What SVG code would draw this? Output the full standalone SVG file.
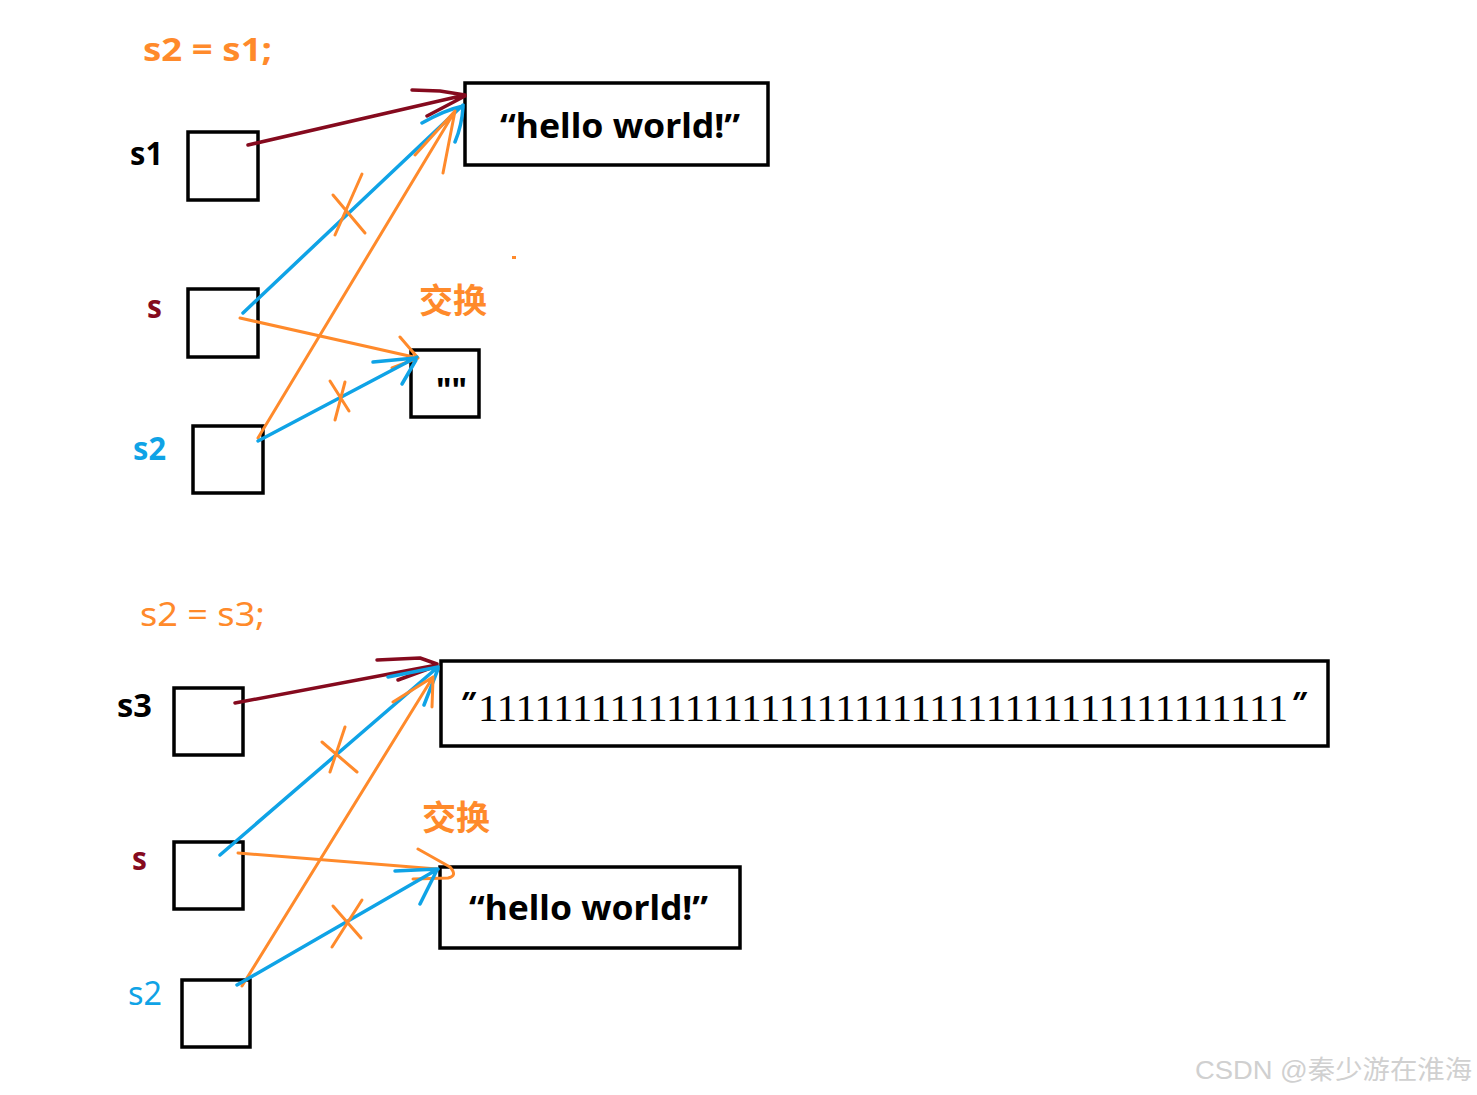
<svg xmlns="http://www.w3.org/2000/svg" width="1477" height="1095" viewBox="0 0 1477 1095">
<style>
.box{fill:none;stroke:#000;stroke-width:3.5}
.lbl{font-family:"Noto Sans","Open Sans","DejaVu Sans",sans-serif;font-weight:bold;font-size:32px}
.reg{font-family:"Noto Sans","Open Sans","DejaVu Sans",sans-serif;font-size:32px}
.cjk{font-family:"Noto Sans CJK SC",sans-serif;font-weight:bold;font-size:34px;fill:#FF8A2B}
.hw{font-family:"Noto Sans","Open Sans",sans-serif;font-weight:bold;font-size:34px;fill:#000}
.q{font-family:"Liberation Sans","DejaVu Sans",sans-serif;font-size:32px;font-weight:bold;fill:#000}
.red{stroke:#850A1E;stroke-width:3.5;fill:none;stroke-linecap:round;stroke-linejoin:round}
.blue{stroke:#0FA3E6;stroke-width:3.5;fill:none;stroke-linecap:round;stroke-linejoin:round}
.org{stroke:#FF8A2B;stroke-width:3;fill:none;stroke-linecap:round;stroke-linejoin:round}
</style>
<rect width="1477" height="1095" fill="#fff"/>

<!-- top section -->
<text class="lbl" x="143" y="61" fill="#FF8A2B" textLength="129" lengthAdjust="spacingAndGlyphs">s2 = s1;</text>
<g id="s1">
<text class="lbl" x="130" y="165" fill="#000" textLength="33" lengthAdjust="spacingAndGlyphs">s1</text>
<rect class="box" x="188" y="132" width="70" height="68"/>
</g>
<g id="s_top">
<text class="lbl" x="147" y="318" fill="#850A1E" textLength="15" lengthAdjust="spacingAndGlyphs">s</text>
<rect class="box" x="188" y="289" width="70" height="68"/>
</g>
<g id="s2_top">
<text class="lbl" x="133" y="460" fill="#0FA3E6" textLength="33" lengthAdjust="spacingAndGlyphs">s2</text>
<rect class="box" x="193" y="426" width="70" height="67"/>
</g>
<g id="hello_top">
<rect class="box" x="465" y="83" width="303" height="82"/>
<text class="hw" x="500" y="138" textLength="240" lengthAdjust="spacingAndGlyphs">“hello world!”</text>
</g>
<g id="empty_top">
<rect class="box" x="411" y="350" width="68" height="67"/>
<text class="hw" x="436" y="402" font-size="26" textLength="31" lengthAdjust="spacingAndGlyphs">""</text>
</g>
<text class="cjk" x="419" y="313">交换</text>
<rect x="512" y="256" width="4" height="3" fill="#FF8A2B"/>

<!-- bottom section -->
<text class="reg" x="140" y="626" fill="#FF8A2B" textLength="125" lengthAdjust="spacingAndGlyphs">s2 = s3;</text>
<g id="s3">
<text class="lbl" x="117" y="717" fill="#000" textLength="35" lengthAdjust="spacingAndGlyphs">s3</text>
<rect class="box" x="174" y="688" width="69" height="67"/>
</g>
<g id="s_bot">
<text class="lbl" x="132" y="870" fill="#850A1E" textLength="15" lengthAdjust="spacingAndGlyphs">s</text>
<rect class="box" x="174" y="842" width="69" height="67"/>
</g>
<g id="s2_bot">
<text class="reg" x="128" y="1005" fill="#0FA3E6" textLength="34" lengthAdjust="spacingAndGlyphs">s2</text>
<rect class="box" x="182" y="980" width="68" height="67"/>
</g>
<g id="ones">
<rect class="box" x="441" y="661" width="887" height="85"/>
<text class="q" transform="translate(453,714) skewX(-25)">"</text>
<text x="478" y="721" font-family="'Liberation Serif','DejaVu Serif',serif" font-size="38" fill="#000" textLength="810" lengthAdjust="spacingAndGlyphs">1111111111111111111111111111111111111111111</text>
<text class="q" transform="translate(1284,714) skewX(-25)">"</text>
</g>
<g id="hello_bot">
<rect class="box" x="440" y="867" width="300" height="81"/>
<text class="hw" x="469" y="920" textLength="239" lengthAdjust="spacingAndGlyphs">“hello world!”</text>
</g>
<text class="cjk" x="422" y="830">交换</text>

<text x="1195" y="1079" font-family="'Liberation Sans','Noto Sans CJK SC',sans-serif" font-size="26" fill="#d0d0d0" textLength="277" lengthAdjust="spacingAndGlyphs">CSDN @秦少游在淮海</text>

<g id="connectors">
<!-- top -->
<path class="red" d="M248,145 L465,95 M412,90 L440,91 L465,95 M427,116 L465,96"/>
<path class="blue" d="M243,313 L463,105 M422,123 Q445,110 463,106 M455,142 Q462,125 463,107"/>
<path class="org" d="M333,195 L365,233 M362,174 L335,235"/>
<path class="org" d="M258,438 L455,111 M415,155 L455,111 M443,173 L455,111"/>
<path class="org" d="M240,318 L418,358 M400,337 L418,358 L392,368"/>
<path class="blue" d="M258,441 L417,357 M373,362 L415,358 M402,384 L416,360"/>
<path class="org" d="M330,381 L349,411 M345,382 L335,420"/>
<!-- bottom -->
<path class="red" d="M235,703 L437,665 M377,660 L420,658 L437,664 M398,680 L436,666"/>
<path class="blue" d="M220,855 L438,667 M388,677 L438,667 M424,705 L438,669"/>
<path class="org" d="M322,742 L357,772 M345,727 L330,772"/>
<path class="org" d="M242,986 L433,677 M393,702 L433,677 M432,707 L433,679"/>
<path class="org" d="M238,853 L437,869 M418,849 L450,867 Q458,876 448,878 L413,879"/>
<path class="blue" d="M237,985 L438,869 M395,871 L437,869 M420,904 L437,870"/>
<path class="org" d="M333,906 L361,938 M362,900 L332,947"/>
</g>
</svg>
